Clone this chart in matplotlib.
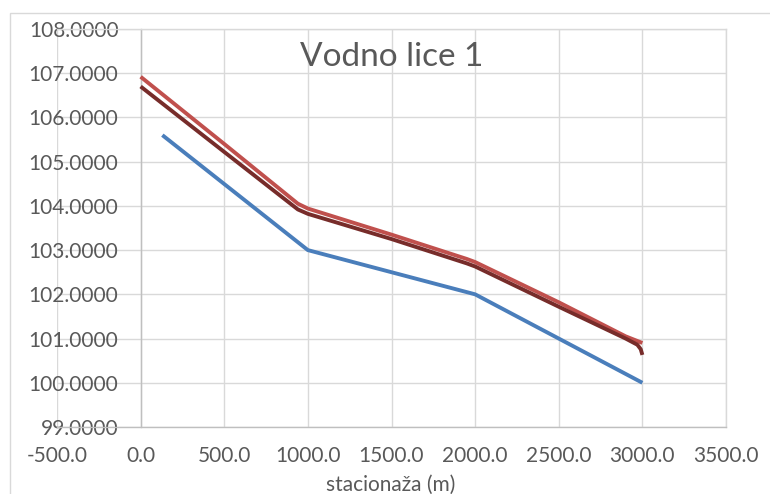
"""Vodno lice 1 - water surface profile along the stationing."""

import matplotlib

matplotlib.use("Agg")
import matplotlib.pyplot as plt
from matplotlib.patches import Rectangle
from matplotlib.ticker import FormatStrFormatter, MultipleLocator

# bed / bottom line
bed_x = [130, 1000, 2000, 3000]
bed_y = [105.60, 103.00, 102.00, 100.00]

# water level, variant A (light red)
wl_a_x = [0, 500, 940, 1000, 1500, 1950, 2000, 2500, 2900, 3000]
wl_a_y = [106.92, 105.40, 104.05, 103.94, 103.35, 102.80, 102.73, 101.82, 101.05, 100.90]

# water level, variant B (dark red)
wl_b_x = [0, 500, 940, 1000, 1500, 1950, 2000, 2500, 2900, 2970, 2990, 3000]
wl_b_y = [106.70, 105.22, 103.92, 103.82, 103.25, 102.70, 102.63, 101.72, 101.00, 100.86, 100.76, 100.63]

TEXT = "#595959"
GRID = "#D9D9D9"

plt.rcParams["font.family"] = ["Lato", "DejaVu Sans"]

fig = plt.figure(figsize=(7.7, 4.94), dpi=100)
ax = fig.add_axes([57 / 770, 1 - 427 / 494, (726 - 57) / 770, (427 - 29) / 494])

line_kw = dict(linewidth=2.8, solid_capstyle="butt", solid_joinstyle="round")
ax.plot(bed_x, bed_y, color="#4A7EBB", zorder=3, **line_kw)
ax.plot(wl_a_x, wl_a_y, color="#C0504D", zorder=3, **line_kw)
ax.plot(wl_b_x, wl_b_y, color="#772C2A", zorder=4, **line_kw)

ax.set_xlim(-500, 3500)
ax.set_ylim(99, 108)
ax.xaxis.set_major_locator(MultipleLocator(500))
ax.yaxis.set_major_locator(MultipleLocator(1))
ax.xaxis.set_major_formatter(FormatStrFormatter("%.1f"))
ax.yaxis.set_major_formatter(FormatStrFormatter("%.4f"))

ax.grid(True, color=GRID, linewidth=1.0, zorder=0)
ax.set_axisbelow(True)
for sp in ax.spines.values():
    sp.set_color(GRID)
    sp.set_linewidth(1.0)
ax.spines["left"].set_position(("data", 0))
ax.spines["left"].set_color("#BFBFBF")
ax.spines["bottom"].set_color("#BFBFBF")

ax.tick_params(axis="both", length=0, labelsize=15, labelcolor=TEXT)
ax.tick_params(axis="y", pad=16)
ax.tick_params(axis="x", pad=14)

fig.text(392 / 770, 1 - 57 / 494, "Vodno lice 1", ha="center", va="center",
         fontsize=24, color=TEXT)
fig.text(391 / 770, 1 - 485 / 494, "stacionaža (m)", ha="center", va="center",
         fontsize=15, color=TEXT)

# chart area border
fig.patches.append(Rectangle((10 / 770, -0.1), 1.0, 1 - 13 / 494 + 0.1,
                             transform=fig.transFigure, fill=False,
                             edgecolor=GRID, linewidth=1.0))

fig.savefig("out.png", dpi=100)
